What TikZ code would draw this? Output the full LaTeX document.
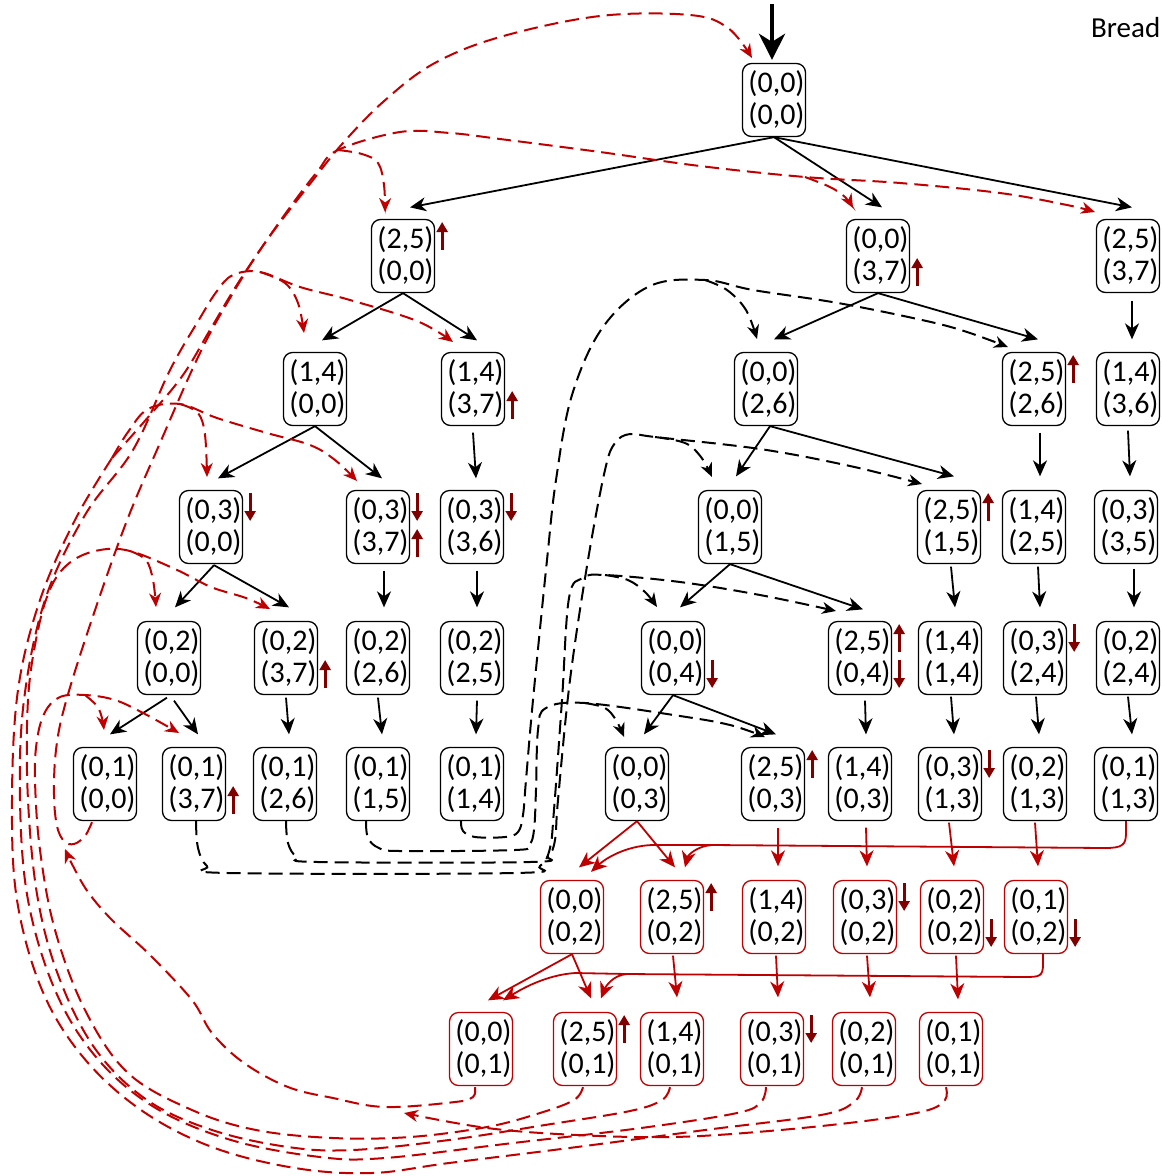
\documentclass[tikz,border=0pt]{standalone}
\usepackage{fontspec}
\setmainfont{Carlito}
\usetikzlibrary{arrows.meta,calc}
\definecolor{myred}{RGB}{192,0,0}
\definecolor{mydark}{RGB}{128,0,0}
\newcommand\myupT[1]{\draw[marr] ($(#1.east)+(7,-6)$) -- ($(#1.east)+(7,-34)$);}
\newcommand\mydnT[1]{\draw[marr] ($(#1.east)+(7,-34)$) -- ($(#1.east)+(7,-6)$);}
\newcommand\myupB[1]{\draw[marr] ($(#1.east)+(7,30)$) -- ($(#1.east)+(7,2)$);}
\newcommand\mydnB[1]{\draw[marr] ($(#1.east)+(7,2)$) -- ($(#1.east)+(7,30)$);}
\newcommand\nd[2]{\hspace*{5pt}#1\\\hspace*{5pt}#2}
\begin{document}
\begin{tikzpicture}[x=1pt,y=-1pt,
  box/.style={draw=black, rounded corners=9pt, minimum width=63pt, minimum height=73pt, inner sep=0pt, align=center, font=\fontsize{30}{32}\selectfont, line width=1.3pt},
  rbox/.style={box, draw=myred},
  tree/.style={line width=1.8pt, -{Stealth[length=16pt,width=14pt,inset=5pt]}},
  rtree/.style={tree, draw=myred},
  rline/.style={line width=1.8pt, draw=myred},
  bd/.style={line width=2pt, dash pattern=on 14pt off 7pt},
  bdt/.style={bd, -{Stealth[length=14pt,width=12pt,inset=4.5pt]}},
  rd/.style={line width=2pt, dash pattern=on 14pt off 7pt, draw=myred},
  rdt/.style={rd, -{Stealth[length=14pt,width=12pt,inset=4.5pt]}},
  marr/.style={line width=3.2pt, draw=mydark, -{Triangle[length=10pt,width=11pt]}},
  sm/.style={smooth, tension=0.6}
]
\useasboundingbox (0,0) rectangle (1162,1176);

\node[anchor=base west, font=\fontsize{29}{32}\selectfont, inner sep=0pt] (title) at (1091,37) {Bread};

% nodes
\node[box] (r0) at (774,100) {\nd{(0,0)}{(0,0)}};
\node[box] (a1) at (403,256) {\nd{(2,5)}{(0,0)}};
\node[box] (b1) at (878,256) {\nd{(0,0)}{(3,7)}};
\node[box] (c1) at (1128,256) {\nd{(2,5)}{(3,7)}};
\node[box] (a2) at (315,389) {\nd{(1,4)}{(0,0)}};
\node[box] (b2) at (473,389) {\nd{(1,4)}{(3,7)}};
\node[box] (c2) at (766,389) {\nd{(0,0)}{(2,6)}};
\node[box] (d2) at (1034,389) {\nd{(2,5)}{(2,6)}};
\node[box] (e2) at (1128,389) {\nd{(1,4)}{(3,6)}};
\node[box] (a3) at (211,527) {\nd{(0,3)}{(0,0)}};
\node[box] (b3) at (378,527) {\nd{(0,3)}{(3,7)}};
\node[box] (c3) at (472,527) {\nd{(0,3)}{(3,6)}};
\node[box] (d3) at (730,527) {\nd{(0,0)}{(1,5)}};
\node[box] (e3) at (949,527) {\nd{(2,5)}{(1,5)}};
\node[box] (f3) at (1034,527) {\nd{(1,4)}{(2,5)}};
\node[box] (g3) at (1126,527) {\nd{(0,3)}{(3,5)}};
\node[box] (a4) at (169,658) {\nd{(0,2)}{(0,0)}};
\node[box] (b4) at (286,658) {\nd{(0,2)}{(3,7)}};
\node[box] (c4) at (378,658) {\nd{(0,2)}{(2,6)}};
\node[box] (d4) at (472,658) {\nd{(0,2)}{(2,5)}};
\node[box] (e4) at (673,658) {\nd{(0,0)}{(0,4)}};
\node[box] (f4) at (860,658) {\nd{(2,5)}{(0,4)}};
\node[box] (g4) at (950,658) {\nd{(1,4)}{(1,4)}};
\node[box] (h4) at (1035,658) {\nd{(0,3)}{(2,4)}};
\node[box] (i4) at (1128,658) {\nd{(0,2)}{(2,4)}};
\node[box] (a5) at (105,784) {\nd{(0,1)}{(0,0)}};
\node[box] (b5) at (194,784) {\nd{(0,1)}{(3,7)}};
\node[box] (c5) at (285,784) {\nd{(0,1)}{(2,6)}};
\node[box] (d5) at (378,784) {\nd{(0,1)}{(1,5)}};
\node[box] (e5) at (472,784) {\nd{(0,1)}{(1,4)}};
\node[box] (f5) at (637,784) {\nd{(0,0)}{(0,3)}};
\node[box] (g5) at (773,784) {\nd{(2,5)}{(0,3)}};
\node[box] (h5) at (860,784) {\nd{(1,4)}{(0,3)}};
\node[box] (i5) at (950,784) {\nd{(0,3)}{(1,3)}};
\node[box] (j5) at (1035,784) {\nd{(0,2)}{(1,3)}};
\node[box] (k5) at (1126,784) {\nd{(0,1)}{(1,3)}};
\node[rbox] (a6) at (572,917) {\nd{(0,0)}{(0,2)}};
\node[rbox] (b6) at (672,917) {\nd{(2,5)}{(0,2)}};
\node[rbox] (c6) at (774,917) {\nd{(1,4)}{(0,2)}};
\node[rbox] (d6) at (865,917) {\nd{(0,3)}{(0,2)}};
\node[rbox] (e6) at (952,917) {\nd{(0,2)}{(0,2)}};
\node[rbox] (f6) at (1036,917) {\nd{(0,1)}{(0,2)}};
\node[rbox] (a7) at (481,1049) {\nd{(0,0)}{(0,1)}};
\node[rbox] (b7) at (585,1049) {\nd{(2,5)}{(0,1)}};
\node[rbox] (c7) at (672,1049) {\nd{(1,4)}{(0,1)}};
\node[rbox] (d7) at (772,1049) {\nd{(0,3)}{(0,1)}};
\node[rbox] (e7) at (864,1049) {\nd{(0,2)}{(0,1)}};
\node[rbox] (f7) at (951,1049) {\nd{(0,1)}{(0,1)}};

% small flip arrows
\myupT{a1} \myupB{b1} \myupB{b2} \myupT{d2}
\mydnT{a3} \mydnT{b3} \myupB{b3} \mydnT{c3} \myupT{e3}
\myupB{b4} \mydnB{e4} \myupT{f4} \mydnB{f4} \mydnT{h4}
\myupB{b5} \myupT{g5} \mydnT{i5}
\myupT{b6} \mydnT{d6} \mydnB{e6} \mydnB{f6}
\myupT{b7} \mydnT{d7}

% entry arrow
\coordinate (topin) at (772,4);
\draw[line width=4.5pt, -{Stealth[length=26pt,width=26pt,inset=8pt]}] (topin) -- ($(r0.north)+(-2,-3)$);

% tree edges
\draw[tree] (r0.south) -- ($(a1.north)+(7,-11.5)$);
\draw[tree] (r0.south) -- ($(b1.north)+(4,-11.5)$);
\draw[tree] (r0.south) -- ($(c1.north)+(4,-11.5)$);
\draw[tree] (a1.south) -- ($(a2.north)+(7,-11.5)$);
\draw[tree] (a1.south) -- ($(b2.north)+(4,-11.5)$);
\draw[tree] (b1.south) -- ($(c2.north)+(8,-12.5)$);
\draw[tree] (b1.south) -- ($(d2.north)+(4,-12.5)$);
\draw[tree] ($(c1.south)+(4,7.5)$) -- ($(e2.north)+(4,-12.5)$);
\draw[tree] (a2.south) -- ($(a3.north)+(7,-11.5)$);
\draw[tree] (a2.south) -- ($(b3.north)+(4,-11.5)$);
\draw[tree] ($(b2.south)+(0,6.5)$) -- ($(c3.north)+(4,-11.5)$);
\draw[tree] ($(c2.south)+(4,0)$) -- ($(d3.north)+(6,-13.5)$);
\draw[tree] ($(c2.south)+(4,0)$) -- ($(e3.north)+(5,-13.5)$);
\draw[tree] ($(d2.south)+(6,6.5)$) -- ($(f3.north)+(6,-13.5)$);
\draw[tree] ($(e2.south)+(0,4.5)$) -- ($(g3.north)+(4,-13.5)$);
\draw[tree] ($(a3.south)+(3,1)$) -- ($(a4.north)+(6,-13.5)$);
\draw[tree] ($(a3.south)+(3,1)$) -- ($(b4.north)+(3,-13.5)$);
\draw[tree] ($(b3.south)+(6,6.5)$) -- ($(c4.north)+(6,-13.5)$);
\draw[tree] ($(c3.south)+(5,6.5)$) -- ($(d4.north)+(5,-13.5)$);
\draw[tree] (d3.south) -- ($(e4.north)+(7,-13.5)$);
\draw[tree] (d3.south) -- ($(f4.north)+(3,-11.5)$);
\draw[tree] ($(e3.south)+(2,2.5)$) -- ($(g4.north)+(5,-13.5)$);
\draw[tree] ($(f3.south)+(4,2.5)$) -- ($(h4.north)+(5,-13.5)$);
\draw[tree] ($(g3.south)+(8,4.5)$) -- ($(i4.north)+(6,-13.5)$);
\draw[tree] ($(a4.south)+(-2,2.5)$) -- ($(a5.north)+(5,-12.5)$);
\draw[tree] ($(a4.south)+(5,5.5)$) -- ($(b5.north)+(4,-12.5)$);
\draw[tree] ($(b4.south)+(0,2.5)$) -- ($(c5.north)+(4,-12.5)$);
\draw[tree] ($(c4.south)+(0,2.5)$) -- ($(d5.north)+(4,-12.5)$);
\draw[tree] ($(d4.south)+(5,5.5)$) -- ($(e5.north)+(4,-12.5)$);
\draw[tree] (e4.south) -- ($(f5.north)+(7,-12.5)$);
\draw[tree] (e4.south) -- ($(g5.north)+(3,-12.5)$);
\draw[tree] ($(f4.south)+(5,5.5)$) -- ($(h5.north)+(6,-12.5)$);
\draw[tree] ($(g4.south)+(1,1.5)$) -- ($(i5.north)+(4,-12.5)$);
\draw[tree] ($(h4.south)+(1,1.5)$) -- ($(j5.north)+(4,-12.5)$);
\draw[tree] ($(i4.south)+(0,1.5)$) -- ($(k5.north)+(6,-12.5)$);

% red solid edges
\draw[rtree] (f5.south) -- ($(a6.north)+(7,-12.5)$);
\draw[rtree] (f5.south) -- ($(b6.north)+(3,-12.5)$);
\coordinate (rb1) at (712,845);
\draw[rline] (k5.south) -- ($(k5.south)+(0,12)$) .. controls ($(k5.south)+(0,24)$) and (1122,848) .. (1105,848) -- (rb1);
\draw[rtree] (rb1) .. controls (697,846) and (688,855) .. ($(b6.north)+(13,-12.5)$);
\draw[rtree] (rb1) -- (652,845) .. controls (626,846) and (606,858) .. ($(a6.north)+(19,-8)$);
\draw[rtree] ($(g5.south)+(5,6.5)$) -- ($(c6.north)+(4,-13.5)$);
\draw[rtree] ($(h5.south)+(6,6.5)$) -- ($(d6.north)+(2,-13.5)$);
\draw[rtree] ($(i5.south)+(-1,1.5)$) -- ($(e6.north)+(2,-13.5)$);
\draw[rtree] ($(j5.south)+(0,1.5)$) -- ($(f6.north)+(2,-13.5)$);
\draw[rtree] (a6.south) -- ($(a7.north)+(7,-11.5)$);
\draw[rtree] (a6.south) -- ($(b7.north)+(6,-13.5)$);
\coordinate (rb2) at (627,974);
\draw[rline] ($(f6.south)+(7,0)$) -- ($(f6.south)+(7,10)$) .. controls ($(f6.south)+(7,22)$) and (1040,977) .. (1025,977) -- (rb2);
\draw[rtree] (rb2) .. controls (612,975) and (605,988) .. ($(b7.north)+(16,-13.5)$);
\draw[rtree] (rb2) -- (575,973) .. controls (545,975) and (520,990) .. ($(a7.north)+(22,-11.5)$);
\draw[rtree] ($(b6.south)+(1,1.5)$) -- ($(c7.north)+(5,-14.5)$);
\draw[rtree] ($(c6.south)+(2,1.5)$) -- ($(d7.north)+(6,-14.5)$);
\draw[rtree] ($(d6.south)+(2,1.5)$) -- ($(e7.north)+(6,-14.5)$);
\draw[rtree] ($(e6.south)+(4,1.5)$) -- ($(f7.north)+(7,-12.5)$);

% black dashed
\coordinate (e5b) at ($(e5.south)+(-11,0)$);
\coordinate (d5b) at ($(d5.south)+(-12,0)$);
\coordinate (c5b) at ($(c5.south)+(1,0)$);
\coordinate (b5b) at ($(b5.south)+(2,0)$);
\coordinate (kb2) at (705,280);
\coordinate (kb3) at (655,437);
\coordinate (kb4) at (605,575);
\coordinate (kb5) at (585,703);
\draw[bdt] plot[sm] coordinates {(e5b) (463,831) (475,837) (505,837) (518,832) (523,815) (526,780) (533,700) (547,560) (556,480) (572,395) (603,327) (650,286) (kb2) (753,290) (838,303) (922,320) (964,331) (1008,347)};
\draw[bdt] plot[sm] coordinates {(kb2) (727,290) (746,310) (757,339)};
\draw[bdt] plot[sm] coordinates {(c5b) (288,843) (297,857) (318,862) (530,862) (548,856) (555,840) (558,800) (570,680) (588,560) (605,470) (615,443) (630,434) (kb3) (760,449) (850,466) (922,484)};
\draw[bdt] plot[sm] coordinates {(kb3) (685,443) (701,457) (712,477)};
\draw[bdt] plot[sm] coordinates {(b5b) (198,848) (207,866) (228,873) (515,873) (540,866) (550,848) (554,810) (562,700) (569,598) (583,578) (kb4) (680,582) (760,595) (836,611)};
\draw[bdt] plot[sm] coordinates {(kb4) (628,580) (645,592) (657,607)};
\draw[bdt] plot[sm] coordinates {(d5b) (368,838) (379,848) (400,851) (515,850) (529,845) (534,830) (536,790) (538,730) (546,708) (kb5) (680,716) (730,725) (765,737)};
\draw[bdt] plot[sm] coordinates {(kb5) (605,708) (616,720) (624,737)};

% red dashed
\coordinate (a5b) at ($(a5.south)+(-13,1)$);
\coordinate (a7b) at ($(a7.south)+(-6,1)$);
\coordinate (b7b) at ($(b7.south)+(-2,1)$);
\coordinate (c7b) at ($(c7.south)+(-2,1)$);
\coordinate (d7b) at ($(d7.south)+(-6,1)$);
\coordinate (e7b) at ($(e7.south)+(-2,1)$);
\coordinate (f7b) at ($(f7.south)+(-5,1)$);
\coordinate (rl1) at (338,150);
\coordinate (rl1b) at (805,177);
\coordinate (rl2) at (260,272);
\coordinate (rl3) at (180,404);
\coordinate (rl4) at (130,551);
\coordinate (rl5) at (85,695);
\coordinate (rj) at (112,458);
% to root
\draw[rdt] plot[sm] coordinates {(a5b) (85,836) (74,844) (64,841) (57,826) (54,795) (56,750) (65,705) (90,625) (126,523) (160,443) (200,353) (233,293) (267,240) (313,180) (343,143) (383,102) (433,64) (500,37) (600,16) (690,15) (728,28) (752,58)};
% level 5
\draw[rdt] plot[sm] coordinates {(b7b) (574,1100) (540,1113) (487,1127) (410,1137) (333,1138) (256,1130) (192,1110) (128,1073) (85,1010) (55,930) (40,850) (35,780) (37,740) (45,712) (60,697) (rl5) (115,700) (145,714) (179,733)};
\draw[rdt] plot[sm] coordinates {(rl5) (97,706) (102,718) (104,730)};
% level 4
\draw[rdt] plot[sm] coordinates {(c7b) (662,1100) (630,1111) (545,1125) (449,1140) (353,1150) (288,1147) (212,1130) (147,1100) (96,1050) (60,980) (38,900) (28,800) (28,700) (38,630) (52,585) (72,561) (100,550) (rl4) (175,569) (211,587) (246,598) (270,609)};
\draw[rdt] plot[sm] coordinates {(rl4) (146,560) (153,580) (156,607)};
% level 2
\draw[rdt] plot[sm] coordinates {(d7b) (761,1102) (737,1113) (641,1128) (513,1143) (385,1158) (320,1157) (231,1140) (154,1107) (96,1057) (55,990) (28,900) (20,800) (24,700) (45,600) (85,515) (133,450) (170,370) (200,318) (217,291) (233,275) (rl2) (300,287) (350,300) (417,321) (453,342)};
\draw[rdt] plot[sm] coordinates {(rl2) (285,283) (298,303) (304,333)};
% level 3 and level 1
\draw[rd] plot[sm] coordinates {(e7b) (854,1102) (821,1115) (705,1130) (577,1147) (449,1163) (372,1173) (295,1168) (212,1147) (141,1110) (83,1057) (42,990) (17,900) (12,800) (18,690) (40,600) (75,520) (rj)};
\draw[rdt] plot[sm] coordinates {(rj) (128,432) (148,409) (rl3) (217,418) (267,433) (310,445) (335,460) (357,481)};
\draw[rdt] plot[sm] coordinates {(rl3) (198,413) (205,435) (207,477)};
\draw[rdt] plot[sm] coordinates {(rj) (150,415) (183,375) (210,330) (240,280) (283,217) (317,172) (rl1) (400,132) (450,133) (500,139) (600,152) (700,166) (rl1b) (900,183) (1000,193) (1067,205) (1095,212)};
\draw[rdt] plot[sm] coordinates {(rl1) (362,154) (378,163) (384,185) (385,212)};
\draw[rdt] plot[sm] coordinates {(rl1b) (830,187) (845,197) (853,208)};
% merging lines
\draw[rdt] plot[sm] coordinates {(a7b) (473,1097) (455,1102) (385,1107) (333,1098) (288,1087) (244,1063) (212,1033) (192,1000) (150,955) (112,920) (88,892) (73,866) (65,849)};
\draw[rdt] plot[sm] coordinates {(f7b) (945,1100) (925,1111) (865,1121) (769,1131) (673,1137) (577,1135) (487,1128) (404,1113)};
\end{tikzpicture}
\end{document}
